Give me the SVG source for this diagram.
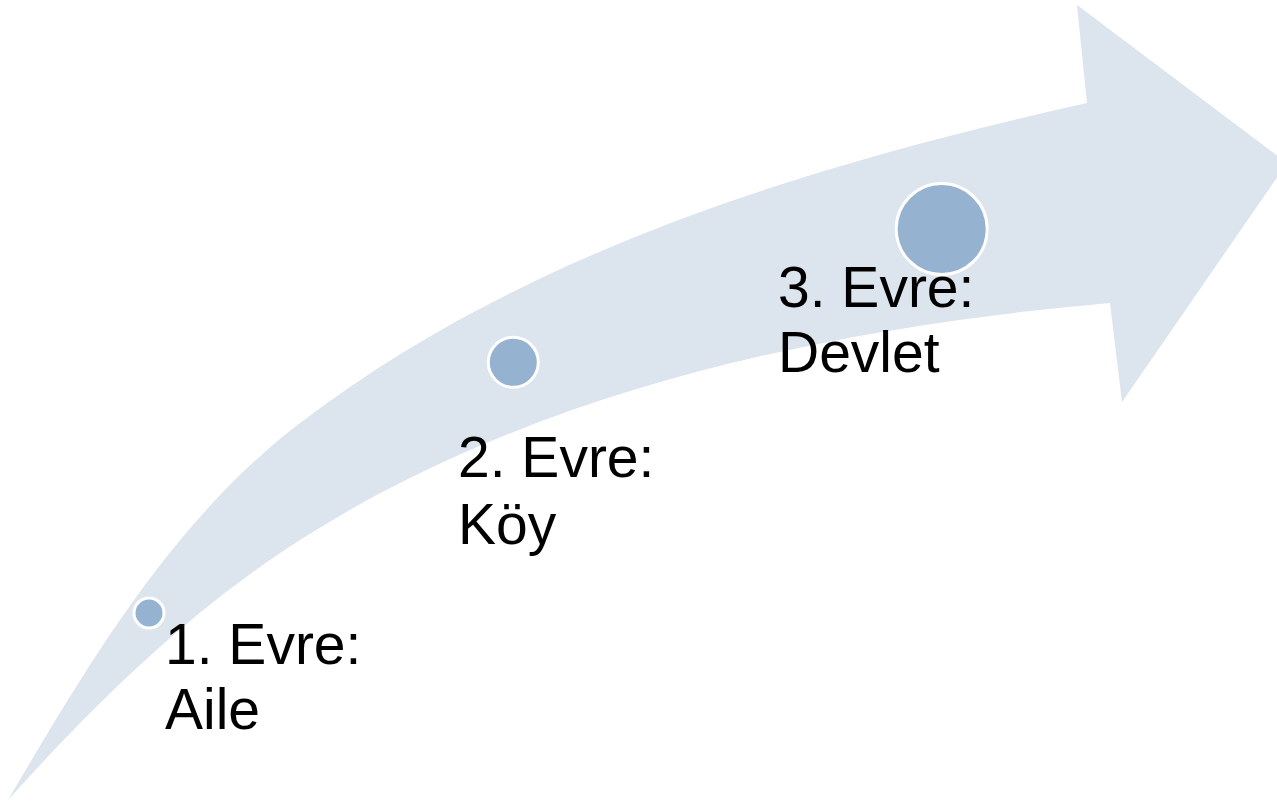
<svg xmlns="http://www.w3.org/2000/svg" width="1277" height="802" viewBox="0 0 1277 802">
<style>
.arrow{fill:#DCE4EE;stroke:none}
.dot{fill:#95B3D1;stroke:#FFFFFF;stroke-width:3}
.lbl{font-family:"Liberation Sans",Arial,sans-serif;font-size:57px;fill:#000000}
</style>
<rect width="1277" height="802" fill="#FFFFFF"/>
<g id="arrow">
<path class="arrow" d="M8,800 C89.3,662 173,520 300,423 C524.7,251.2 810.8,164.7 1087,103 L1077,5 L1287,163 L1122,402 L1110,303 C830.1,327.4 536.9,389.1 300,540 C190.4,609.8 95,703.4 8,800 Z"/>
</g>
<g id="connectors"></g>
<g id="stage1">
<circle class="dot" cx="149" cy="613" r="15"/>
<text class="lbl" x="165" y="663.5">1. Evre:</text>
<text class="lbl" x="165" y="728.5">Aile</text>
</g>
<g id="stage2">
<circle class="dot" cx="513.3" cy="362.3" r="25"/>
<text class="lbl" x="458" y="477">2. Evre:</text>
<text class="lbl" x="458" y="543.5">Köy</text>
</g>
<g id="stage3">
<circle class="dot" cx="941.7" cy="229" r="45.5"/>
<text class="lbl" x="778" y="307">3. Evre:</text>
<text class="lbl" x="778" y="372">Devlet</text>
</g>
</svg>
